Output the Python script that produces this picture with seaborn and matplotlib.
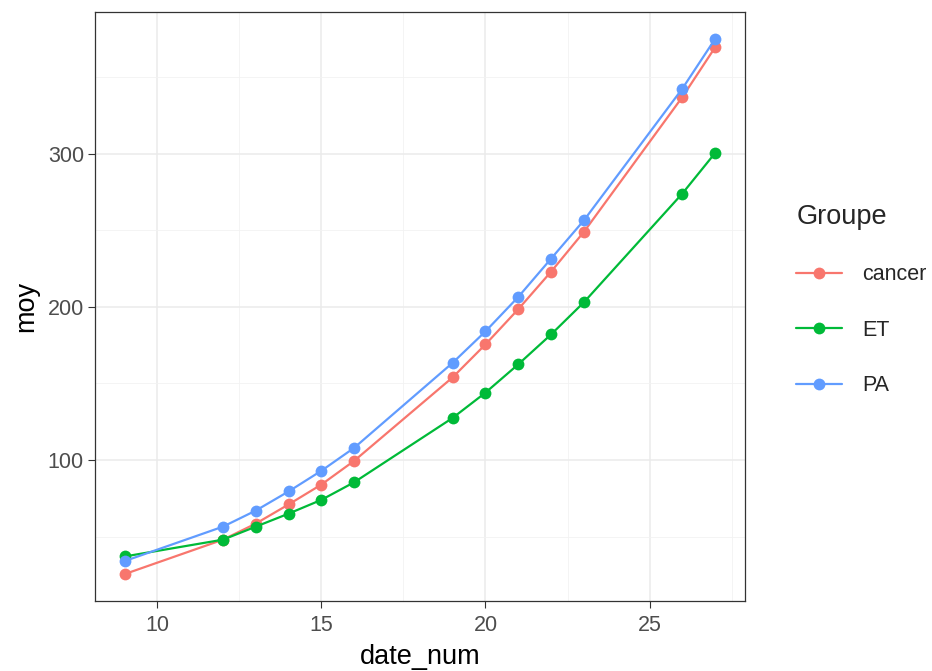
import pandas as pd
import matplotlib
matplotlib.use('Agg')
import matplotlib.pyplot as plt
from matplotlib.ticker import MultipleLocator
import seaborn as sns

# ── Data ─────────────────────────────────────
date_num = [9, 12, 13, 14, 15, 16, 19, 20, 21, 22, 23, 26, 27]
cancer = [25.5, 48, 58.5, 71, 84, 99.5, 154, 175.5, 198.5, 223, 249, 337, 369.5]
et     = [37, 48, 56.5, 65, 74, 85.5, 127.5, 144, 162.5, 182, 203, 274, 300.5]
pa     = [34, 56.5, 67, 79.5, 93, 108, 163.5, 184, 206.5, 231.5, 256.5, 342.5, 375]
groups = ['cancer', 'ET', 'PA']

df = pd.DataFrame({
    'date_num': date_num * 3,
    'moy': cancer + et + pa,
    'Groupe': [g for g in groups for _ in date_num],
})

PALETTE = {'cancer': '#F8766D', 'ET': '#00BA38', 'PA': '#619CFF'}

# ── Plot ─────────────────────────────────────
sns.set_style('white')
plt.rcParams['font.family'] = ['Liberation Sans', 'DejaVu Sans']

fig = plt.figure(figsize=(9.32, 6.71), dpi=100)
ax = fig.add_axes([0.102, 0.104, 0.697, 0.878])

sns.lineplot(data=df, x='date_num', y='moy', hue='Groupe', palette=PALETTE,
             marker='o', markersize=8.5, markeredgewidth=0, linewidth=1.6,
             ax=ax, zorder=3)

ax.set_xlim(8.1, 27.9)
ax.set_ylim(7.8, 392.5)
ax.xaxis.set_major_locator(MultipleLocator(5))
ax.xaxis.set_minor_locator(MultipleLocator(2.5))
ax.yaxis.set_major_locator(MultipleLocator(100))
ax.yaxis.set_minor_locator(MultipleLocator(50))
ax.set_yticks([100, 200, 300])
ax.grid(which='major', color='#EBEBEB', linewidth=1.1, zorder=0)
ax.grid(which='minor', color='#F2F2F2', linewidth=0.6, zorder=0)
ax.set_axisbelow(True)

for s in ax.spines.values():
    s.set_color('#333333')
    s.set_linewidth(0.9)

ax.tick_params(axis='both', which='major', labelsize=15.5, labelcolor='#4D4D4D',
               color='#333333', length=5, width=0.8, direction='out',
               bottom=True, left=True, pad=3)
ax.tick_params(axis='x', which='major', pad=5)
ax.tick_params(axis='both', which='minor', length=0)
ax.set_xlabel('date_num', fontsize=19.5, color='black', labelpad=6)
ax.set_ylabel('moy', fontsize=19.5, color='black', labelpad=6)

leg = ax.legend(title='Groupe', loc='center left', bbox_to_anchor=(1.066, 0.511),
                borderaxespad=0, frameon=False, fontsize=15.5, title_fontsize=19.5,
                handlelength=2.15, labelspacing=1.6, handletextpad=0.9)
leg._legend_box.align = 'left'

plt.savefig('out.png', dpi=100)
plt.close()
